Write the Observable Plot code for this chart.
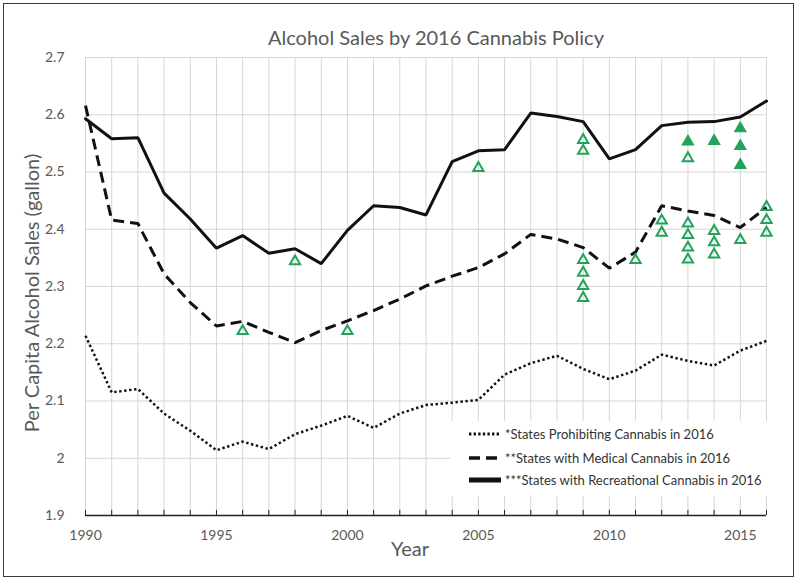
<!DOCTYPE html>
<html>
<head>
<meta charset="utf-8">
<script src="https://cdn.jsdelivr.net/npm/d3@7"></script>
<script src="https://cdn.jsdelivr.net/npm/@observablehq/plot@0.6"></script>
<style>
  body { margin: 0; background: #fff; }
  #wrap { position: relative; width: 800px; height: 580px; overflow: hidden; font-family: Lato, "Open Sans", sans-serif; background: #fff; }
  #title { position: relative; height: 50px; }
  #title span { position: absolute; left: 0; width: 872px; top: 24px; text-align: center; font-size: 20px; line-height: 26px; color: #595959; white-space: nowrap; }
  #frame { position: absolute; left: 3px; top: 3px; width: 791px; height: 574px; border: 1.5px solid #3a3a3a; box-sizing: border-box; pointer-events: none; }
  .axtitle { position: absolute; font-size: 20px; color: #595959; white-space: nowrap; text-align: center; line-height: 26px; }
  #ylab { left: -169px; top: 280px; width: 400px; transform: rotate(-90deg); }
  #xlab { left: 360px; top: 535px; width: 100px; }
  #legend { position: absolute; left: 450px; top: 421px; width: 320px; height: 75px; background: #fff; }
  .row { position: absolute; left: 0; height: 18px; width: 320px; }
  .row svg { position: absolute; left: 19px; top: 0; }
  .row span { position: absolute; left: 55px; top: 0; font-size: 13px; line-height: 18px; color: #333; white-space: nowrap; }
</style>
</head>
<body>
<div id="wrap">
  <div id="title"><span>Alcohol Sales by 2016 Cannabis Policy</span></div>
  <div id="chart"></div>
  <div class="axtitle" id="ylab">Per Capita Alcohol Sales (gallon)</div>
  <div class="axtitle" id="xlab">Year</div>
  <div id="legend"></div>
  <div id="frame"></div>
</div>
<script>
// ---- data ----
const years = [1990, 1991, 1992, 1993, 1994, 1995, 1996, 1997, 1998, 1999, 2000, 2001, 2002, 2003, 2004, 2005, 2006, 2007, 2008, 2009, 2010, 2011, 2012, 2013, 2014, 2015, 2016];
const prohibiting = [2.214, 2.115, 2.121, 2.078, 2.048, 2.014, 2.029, 2.016, 2.042, 2.057, 2.074, 2.053, 2.078, 2.093, 2.097, 2.102, 2.146, 2.166, 2.179, 2.156, 2.138, 2.153, 2.181, 2.170, 2.162, 2.188, 2.205];
const medical = [2.616, 2.416, 2.410, 2.322, 2.272, 2.231, 2.239, 2.220, 2.202, 2.223, 2.240, 2.258, 2.278, 2.301, 2.318, 2.333, 2.357, 2.391, 2.383, 2.368, 2.332, 2.360, 2.441, 2.432, 2.424, 2.403, 2.438];
const recreational = [2.593, 2.558, 2.560, 2.463, 2.418, 2.367, 2.389, 2.358, 2.366, 2.340, 2.398, 2.441, 2.438, 2.425, 2.518, 2.537, 2.539, 2.603, 2.597, 2.588, 2.523, 2.539, 2.581, 2.587, 2.588, 2.596, 2.624];

const openTriYear = [1996, 1998, 2000, 2005, 2009, 2009, 2009, 2009, 2009, 2009, 2011, 2012, 2012, 2013, 2013, 2013, 2013, 2013, 2014, 2014, 2014, 2015, 2016, 2016, 2016];
const openTriValue = [2.222, 2.344, 2.222, 2.507, 2.556, 2.537, 2.346, 2.324, 2.301, 2.280, 2.346, 2.415, 2.394, 2.524, 2.410, 2.390, 2.368, 2.347, 2.397, 2.377, 2.356, 2.381, 2.439, 2.416, 2.394];
const filledTriYear = [2013, 2014, 2015, 2015, 2015];
const filledTriValue = [2.553, 2.554, 2.576, 2.545, 2.512];

const yTicks = [1.9, 2.0, 2.1, 2.2, 2.3, 2.4, 2.5, 2.6, 2.7];
const yTickLabels = ["1.9", "2", "2.1", "2.2", "2.3", "2.4", "2.5", "2.6", "2.7"];
const xLabelYears = [1990, 1995, 2000, 2005, 2010, 2015];

const seriesNames = ["*States Prohibiting Cannabis in 2016", "**States with Medical Cannabis in 2016", "***States with Recreational Cannabis in 2016"];

// ---- build tables ----
const rows = years.map((yr, i) => ({year: yr, prohibiting: prohibiting[i], medical: medical[i], recreational: recreational[i]}));
const openTri = openTriYear.map((yr, i) => ({year: yr, value: openTriValue[i]}));
const filledTri = filledTriYear.map((yr, i) => ({year: yr, value: filledTriValue[i]}));

const green = "#22a35a";
const ink = "#111";

const chart = Plot.plot({
  width: 800,
  height: 530,
  marginTop: 7,
  marginBottom: 65,
  marginLeft: 85,
  marginRight: 34,
  x: {domain: [1990, 2016]},
  y: {domain: [1.9, 2.7]},
  style: {fontFamily: 'Lato, "Open Sans", sans-serif', fontSize: "14px", color: "#595959", background: "transparent", overflow: "visible"},
  marks: [
    Plot.gridX(years, {stroke: "#d6d6d6", strokeOpacity: 1, strokeWidth: 1}),
    Plot.gridY(yTicks, {stroke: "#d6d6d6", strokeOpacity: 1, strokeWidth: 1}),
    Plot.axisY(yTicks, {tickSize: 0, tickPadding: 21, tickFormat: (d, i) => yTickLabels[i], label: null, fill: "#595959"}),
    Plot.axisX(xLabelYears, {tickSize: 0, tickPadding: 15, tickFormat: d => String(d), label: null, fill: "#595959"}),
    Plot.ruleY([1.9], {stroke: "#222", strokeWidth: 1.3}),
    Plot.ruleX(years, {x: d => d, y1: 1.9, y2: 1.909, stroke: "#222", strokeWidth: 1}),
    Plot.line(rows, {x: "year", y: "prohibiting", stroke: ink, strokeWidth: 2.5, strokeDasharray: "2.4,2.6", strokeLinecap: "butt", strokeLinejoin: "miter"}),
    Plot.line(rows, {x: "year", y: "medical", stroke: ink, strokeWidth: 3, strokeDasharray: "11,6", strokeLinecap: "butt", strokeLinejoin: "miter"}),
    Plot.line(rows, {x: "year", y: "recreational", stroke: ink, strokeWidth: 3, strokeLinejoin: "miter"}),
    Plot.dot(openTri, {x: "year", y: "value", symbol: "triangle", r: 3.8, stroke: green, strokeWidth: 2, fill: "white", fillOpacity: 0}),
    Plot.dot(filledTri, {x: "year", y: "value", symbol: "triangle", r: 4.2, stroke: green, strokeWidth: 1.2, fill: green})
  ]
});
document.getElementById("chart").appendChild(chart);

// ---- legend (HTML overlay) ----
const legend = document.getElementById("legend");
const legendStyles = [
  {dash: "2.4,2.2", width: 2.8},
  {dash: "11,6", width: 3.5},
  {dash: null, width: 5}
];
const rowTops = [4, 28, 50];
seriesNames.forEach((name, i) => {
  const r = document.createElement("div");
  r.className = "row";
  r.style.top = rowTops[i] + "px";
  const st = legendStyles[i];
  r.innerHTML = `<svg width="32" height="18"><line x1="0" x2="32" y1="9" y2="9" stroke="${ink}" stroke-width="${st.width}" ${st.dash ? `stroke-dasharray="${st.dash}"` : ""}/></svg><span>${name}</span>`;
  legend.appendChild(r);
});
</script>
</body>
</html>
